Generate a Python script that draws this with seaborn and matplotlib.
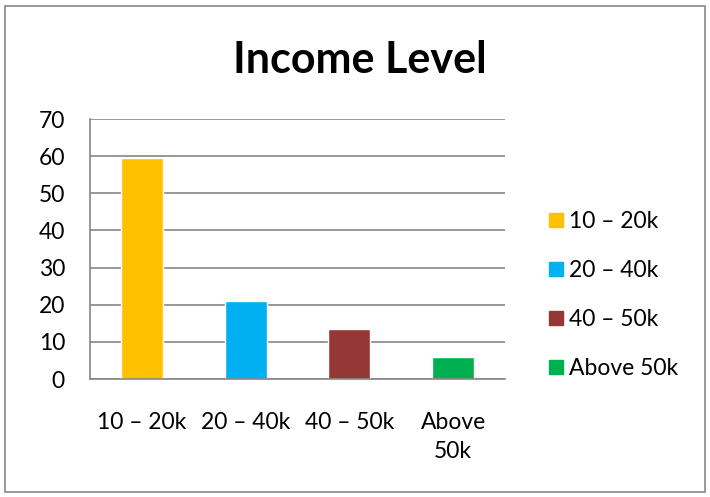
import matplotlib
matplotlib.use("Agg")
import matplotlib.pyplot as plt
import seaborn as sns
import pandas as pd
from matplotlib.patches import Rectangle
from matplotlib.lines import Line2D

categories = ["10 – 20k", "20 – 40k", "40 – 50k", "Above 50k"]
tick_labels = ["10 – 20k", "20 – 40k", "40 – 50k", "Above\n50k"]
values = [59.5, 21, 13.5, 6]
colors = ["#FFC000", "#00B0F0", "#953735", "#00B050"]

sns.set_style("white")
plt.rcParams['font.family'] = ['Lato', 'DejaVu Sans']
plt.rcParams['text.color'] = 'black'
plt.rcParams['xtick.color'] = 'black'
plt.rcParams['ytick.color'] = 'black'

df = pd.DataFrame({"cat": categories, "val": values})

fig = plt.figure(figsize=(7.1, 4.97), dpi=100)
ax = fig.add_axes([90/710, 1-379/497, 415/710, 260/497])

sns.barplot(data=df, x="cat", y="val", hue="cat", palette=colors, dodge=False,
            width=0.405, legend=False, ax=ax, saturation=1)

ax.set_ylim(0, 70)
ax.set_xlim(-0.5, 3.5)
ax.set_yticks(range(0, 71, 10))
ax.yaxis.grid(True, color="#868686", linewidth=1.2)
ax.set_axisbelow(True)
ax.set_xlabel("")
ax.set_ylabel("")
for s in ["top", "right"]:
    ax.spines[s].set_visible(False)
for s in ["left", "bottom"]:
    ax.spines[s].set_color("#868686")
    ax.spines[s].set_linewidth(1.2)

ax.set_xticks([0, 1, 2, 3])
ax.set_xticklabels(tick_labels, fontsize=16.5, linespacing=1.45)
ax.set_xticks([-0.5, 0.5, 1.5, 2.5, 3.5], minor=True)
ax.tick_params(axis="x", which="major", length=0, pad=24)
ax.tick_params(axis="x", which="minor", length=8, width=1.2, color="#868686", direction="out")
ax.tick_params(axis="y", which="major", length=9, width=1.2, color="#868686", direction="out",
               labelsize=16.5, labelcolor="black", pad=9)
ax.tick_params(axis="x", labelcolor="black")
for lab in ax.get_xticklabels():
    lab.set_verticalalignment("top")

fig.text(360/710, 1-60/497, "Income Level", fontsize=31, fontweight="bold",
         ha="center", va="center", color="black")

handles = [Line2D([0], [0], marker="s", linestyle="none", markersize=10.5,
                  markerfacecolor=c, markeredgecolor=c) for c in colors]
fig.legend(handles, categories, loc="center left", bbox_to_anchor=(538/710, 1-295/497),
           frameon=False, fontsize=16.5, handlelength=0.6, handletextpad=0.25,
           labelspacing=1.22, borderpad=0)

fig.patches.append(Rectangle((5/710, 5/497), 700/710, 486/497, transform=fig.transFigure,
                             fill=False, edgecolor="#868686", linewidth=1.2))

fig.savefig("out.png", dpi=100)
